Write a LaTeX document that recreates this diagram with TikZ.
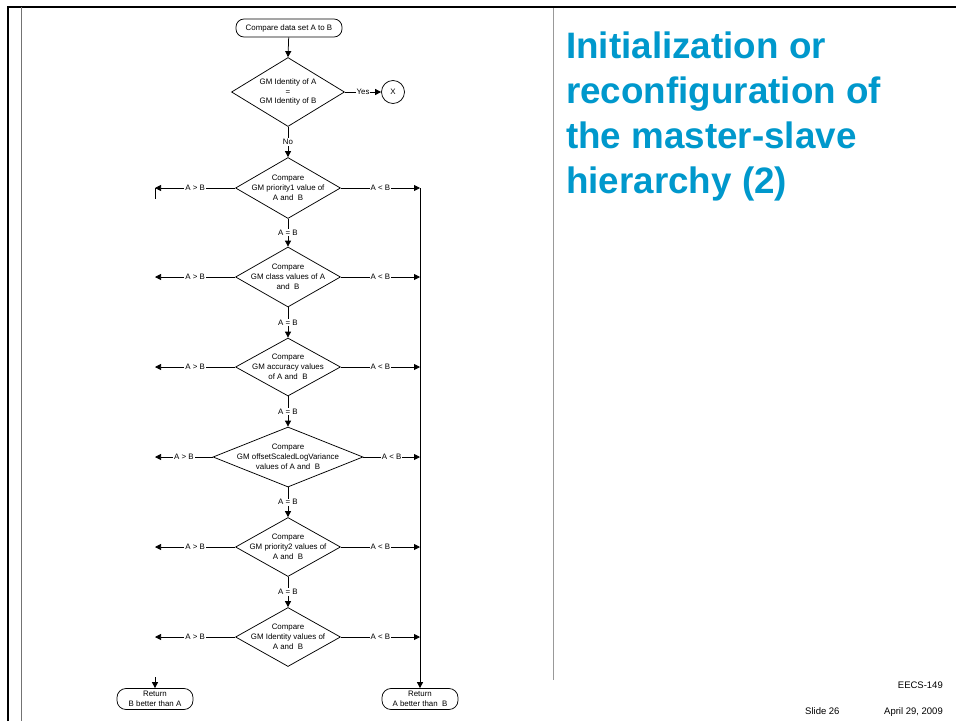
\documentclass[tikz,border=0pt]{standalone}
\usepackage{fontspec}
\setmainfont{Liberation Sans}
\usetikzlibrary{shapes.geometric,arrows.meta}
\definecolor{titleblue}{RGB}{0,152,204}
\definecolor{rulegray}{gray}{0.45}
\definecolor{sepgray}{gray}{0.6}

\begin{document}
\begin{tikzpicture}[x=1pt,y=-1pt,
  flowfont/.style={font=\fontsize{7.9}{9.8}\selectfont},
  term/.style={draw, line width=0.75pt, rounded corners=8pt, minimum width=#1,
    minimum height=18pt, inner sep=0pt, align=center, flowfont},
  decision/.style n args={2}{draw, line width=0.75pt, diamond, inner sep=0pt,
    minimum width=#1, minimum height=#2},
  dtext/.style={flowfont, align=center, inner sep=0pt},
  conn/.style={line width=0.75pt},
  arr/.style={conn, -{Triangle[length=6pt,width=6pt]}},
  lbl/.style={fill=white, inner sep=1pt, flowfont},
  title/.style={anchor=base west, inner sep=0pt, text=titleblue,
    font=\fontsize{36.8}{45}\selectfont\bfseries},
  foot/.style={inner sep=0pt, font=\fontsize{9.5}{11}\selectfont}
]
% page area
\fill[white] (0,0) rectangle (956,721);
\useasboundingbox (0,0) rectangle (956,721);

% slide frame and rules
\draw[line width=2pt] (8,721) -- (8,7) -- (956,7);
\draw[rulegray, line width=1pt] (21,7) -- (21,721);
\draw[sepgray, line width=1pt] (553,8) -- (553,680);

% title
\node[title] (t1) at (566,58)  {Initialization or};
\node[title] (t2) at (566,103) {reconfiguration of};
\node[title] (t3) at (566,148) {the master-slave};
\node[title] (t4) at (566,193) {hierarchy (2)};

% footer
\node[foot, anchor=base east] (course) at (943,688) {EECS-149};
\node[foot, anchor=base west] (slide)  at (805,714) {Slide 26};
\node[foot, anchor=base east] (date)   at (943,714) {April 29, 2009};

% flowchart nodes
\node[term=106pt] (start) at (289,28) {Compare data set A to B};
\node[decision={113pt}{69pt}] (d1) at (288,92) {};
\node[dtext] at (d1) {GM Identity of A\\=\\GM Identity of B};
\node[draw, line width=0.75pt, circle, minimum size=23pt, inner sep=0pt, flowfont] (x) at (393,92) {X};

\node[decision={105pt}{61pt}] (d2) at (288,188) {};
\node[dtext] at (d2) {Compare\\GM priority1 value of\\A and\ \ B};
\node[decision={105pt}{60pt}] (d3) at (288,277) {};
\node[dtext] at (d3) {Compare\\GM class values of A\\and\ \ B};
\node[decision={105pt}{58pt}] (d4) at (288,367) {};
\node[dtext] at (d4) {Compare\\GM accuracy values\\of A and\ \ B};
\node[decision={150pt}{60pt}] (d5) at (288,457) {};
\node[dtext] at (d5) {Compare\\GM offsetScaledLogVariance\\values of A and\ \ B};
\node[decision={105pt}{59pt}] (d6) at (288,547) {};
\node[dtext] at (d6) {Compare\\GM priority2 values of\\A and\ \ B};
\node[decision={105pt}{59pt}] (d7) at (288,637) {};
\node[dtext] at (d7) {Compare\\GM Identity values of\\A and\ \ B};

\node[term=76pt, minimum height=21pt, rounded corners=9pt] (retB) at (155,699) {Return\\B better than A};
\node[term=76pt, minimum height=21pt, rounded corners=9pt] (retA) at (420,699) {Return\\A better than\ \ B};

% branch end points
\foreach \i/\y in {2/188,3/277,4/367,5/457,6/547,7/637}{
  \coordinate (l\i) at (155,\y);
  \coordinate (r\i) at (420,\y);
}
\coordinate (ltick) at (155,199);
\coordinate (bstub) at (155,677);

% main sequence
\draw[arr] (start) -- (d1.north);
\draw[arr] (d1.east) -- node[lbl] {Yes} (x.west);
\draw[arr] (d1.south) -- node[lbl] {No} (d2.north);
\draw[arr] (d2.south) -- node[lbl] {A = B} (d3.north);
\draw[arr] (d3.south) -- node[lbl] {A = B} (d4.north);
\draw[arr] (d4.south) -- node[lbl] {A = B} (d5.north);
\draw[arr] (d5.south) -- node[lbl] {A = B} (d6.north);
\draw[arr] (d6.south) -- node[lbl] {A = B} (d7.north);

% side branches
\foreach \i in {2,...,7}{
  \draw[arr] (d\i.west) -- node[lbl] {A > B} (l\i);
  \draw[arr] (d\i.east) -- node[lbl] {A < B} (r\i);
}
\draw[conn] (l2) -- (ltick);
\draw[arr] (r2) -- (retA.north);
\draw[arr] (bstub) -- (retB.north);
\end{tikzpicture}
\end{document}
